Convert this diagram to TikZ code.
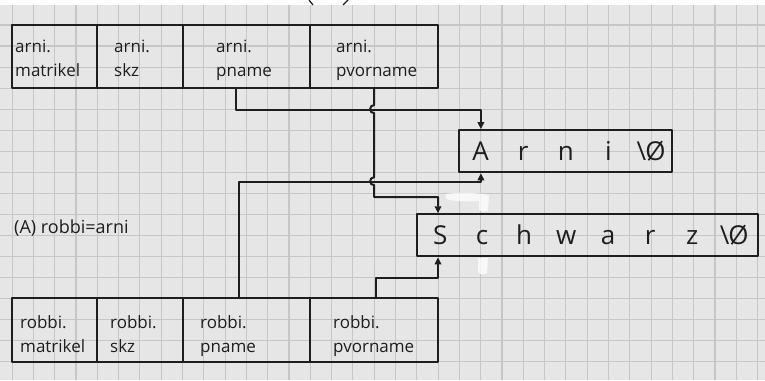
\documentclass[tikz,border=0pt]{standalone}
\usepackage{fontspec}
\setmainfont{Open Sans}
\usetikzlibrary{arrows.meta}
\definecolor{paper}{HTML}{E6E6E6}
\definecolor{gridc}{HTML}{C6C6C6}
\definecolor{ink}{HTML}{1E1E1E}
\newcommand\lc[1]{\makebox[42.6pt]{#1}}
\newcommand\ls[1]{\makebox[42pt]{#1}}
\newcommand\nulc{\textbackslash\kern-1pt\O}
\begin{document}
\begin{tikzpicture}[x=1pt,y=-1pt,line join=round,
  cellbox/.style={draw=ink,line width=2pt,minimum height=63.1pt,inner sep=0pt},
  strbox/.style={draw=ink,line width=2pt,minimum height=42.1pt,inner sep=0pt,text=ink,font=\fontsize{26}{30}\selectfont},
  celltext/.style={anchor=base west,align=left,inner sep=0pt,text=ink,font=\fontsize{17}{24}\selectfont},
  wire/.style={draw=ink,line width=2pt},
  arr/.style={wire,-{Triangle[length=7pt,width=6.5pt]}},
  gridline/.style={draw=gridc,line width=1.1pt},
  blob/.style={fill=white,opacity=0.75,draw=none}]
\useasboundingbox (0,0) rectangle (765,380);
\fill[white] (0,0) rectangle (765,380);
\fill[paper] (0,5) rectangle (765,380);
\foreach \k in {0,...,35} \draw[gridline] ({12.1+21.3*\k},5) -- ({12.1+21.3*\k},380);
\foreach \k in {0,...,16} \draw[gridline] (0,{25+21.03*\k}) -- (765,{25+21.03*\k});
% correction fluid marks
\fill[blob] (446,194) .. controls (460,192) and (480,193) .. (489,195) -- (488,211) .. controls (485,212) and (481,212) .. (479,210) -- (479,201) .. controls (465,202) and (452,201) .. (446,199) -- cycle;
\fill[blob] (478,258) -- (488,258) -- (487,273) .. controls (484,275) and (480,275) .. (478,272) -- cycle;
% partial parentheses at the top edge
\draw[ink,line width=1.2pt] (309,0) -- (313,5);
\draw[ink,line width=1.2pt] (348,0) -- (343,5);
% arni table
\node[cellbox,minimum width=85.2pt] (a1) at (54.7,56.55) {};
\node[cellbox,minimum width=85.2pt] (a2) at (139.9,56.55) {};
\node[cellbox,minimum width=127.8pt] (a3) at (246.4,56.55) {};
\node[cellbox,minimum width=127.8pt] (a4) at (374.2,56.55) {};
\node[celltext] (ta1) at (15,76) {arni.\\matrikel};
\node[celltext] (ta2) at (114,76) {arni.\\skz};
\node[celltext] (ta3) at (216,76) {arni.\\pname};
\node[celltext] (ta4) at (336,76) {arni.\\pvorname};
% robbi table
\node[cellbox,minimum width=85.2pt] (b1) at (54.7,329.95) {};
\node[cellbox,minimum width=85.2pt] (b2) at (139.9,329.95) {};
\node[cellbox,minimum width=127.8pt] (b3) at (246.4,329.95) {};
\node[cellbox,minimum width=127.8pt] (b4) at (374.2,329.95) {};
\node[celltext] (tb1) at (20,352) {robbi.\\matrikel};
\node[celltext] (tb2) at (110,352) {robbi.\\skz};
\node[celltext] (tb3) at (200,352) {robbi.\\pname};
\node[celltext] (tb4) at (333,352) {robbi.\\pvorname};
% strings
\node[strbox,minimum width=213pt] (arni) at (565.9,151.2) {\lc{A}\lc{r}\lc{n}\lc{i}\lc{\nulc}};
\node[strbox,minimum width=340.8pt] (schwarz) at (587.2,235.3) {\ls{S}\ls{c}\ls{h}\ls{w}\ls{a}\ls{r}\ls{z}\ls{\nulc}};
% label
\node[celltext,font=\fontsize{18}{20}\selectfont] (lbl) at (14,233) {(A) robbi=arni};
% connectors
\draw[arr] ([xshift=-10.4pt]a3.south) -- ++(0,21) -| ([xshift=-85pt]arni.north);
\draw[arr] (a4.south) -- (374.2,105) .. controls (368.8,105) and (368.8,113.2) .. (374.2,113.2)
  -- (374.2,177.2) .. controls (368.8,177.2) and (368.8,185.2) .. (374.2,185.2)
  -- (374.2,197) -| ([xshift=-149.2pt]schwarz.north);
\draw[arr] ([xshift=-7.4pt]b3.north) |- ([xshift=-85pt,yshift=-9pt]arni.south) -- ([xshift=-85pt]arni.south);
\draw[arr] ([xshift=1.8pt]b4.north) |- ([xshift=-149.2pt,yshift=-21pt]schwarz.south) -- ([xshift=-149.2pt]schwarz.south);
\end{tikzpicture}
\end{document}
